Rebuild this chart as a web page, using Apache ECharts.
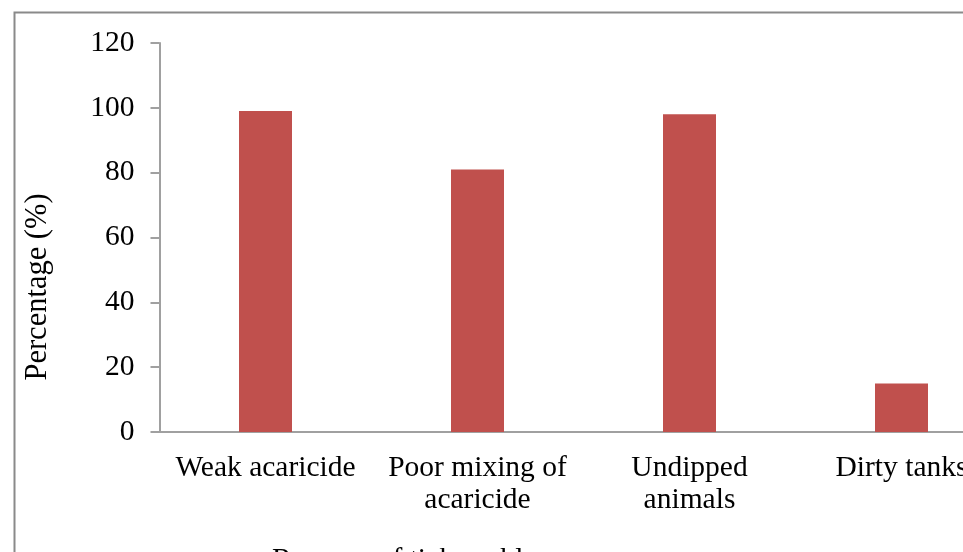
<!DOCTYPE html>
<html>
<head>
<meta charset="utf-8">
<script src="https://cdn.jsdelivr.net/npm/echarts@6/dist/echarts.min.js"></script>
<style>
html,body{margin:0;padding:0;background:#fff;overflow:hidden;width:963px;height:552px;}
#chart{width:1010px;height:552px;}
</style>
</head>
<body>
<div id="chart"></div>
<script>
const categories = ["Weak acaricide", "Poor mixing of\nacaricide", "Undipped\nanimals", "Dirty tanks"];
const values = [99, 81, 98, 15];
const yTitle = "Percentage (%)";
const xTitle = "Reasons of tick problems";

const FONT = "'Liberation Serif', 'Times New Roman', serif";
const chart = echarts.init(document.getElementById('chart'), null, {renderer: 'canvas'});
chart.setOption({
  animation: false,
  backgroundColor: '#fff',
  grid: {left: 159.5, top: 43, bottom: 120, right: 2.5, containLabel: false},
  xAxis: {
    type: 'category',
    data: categories,
    axisLine: {lineStyle: {color: '#a0a0a0', width: 2}},
    axisTick: {show: false},
    axisLabel: {interval: 0, color: '#000', fontFamily: FONT, fontSize: 29.5, lineHeight: 32, margin: 20}
  },
  yAxis: {
    type: 'value',
    min: 0, max: 120, interval: 20,
    splitLine: {show: false},
    axisLine: {show: true, lineStyle: {color: '#a0a0a0', width: 2}},
    axisTick: {show: true, length: 9, lineStyle: {color: '#a0a0a0', width: 2}},
    axisLabel: {color: '#000', fontFamily: FONT, fontSize: 29.5, margin: 25}
  },
  series: [{
    type: 'bar',
    data: values,
    barWidth: '25%',
    itemStyle: {color: '#c0504d'}
  }],
  graphic: [
    {type: 'rect', left: 12, top: 10, shape: {width: 1000, height: 600}, style: {fill: 'none', stroke: '#8a8a8a', lineWidth: 2}, silent: true},
    {type: 'text', x: 38, y: 287, rotation: Math.PI / 2, style: {text: yTitle, fill: '#000', font: '30.5px ' + FONT, textAlign: 'center', textVerticalAlign: 'middle'}},
    {type: 'text', x: 272, y: 545, style: {text: xTitle, fill: '#000', font: '29.5px ' + FONT, textAlign: 'left', textVerticalAlign: 'top'}}
  ]
});
</script>
</body>
</html>
